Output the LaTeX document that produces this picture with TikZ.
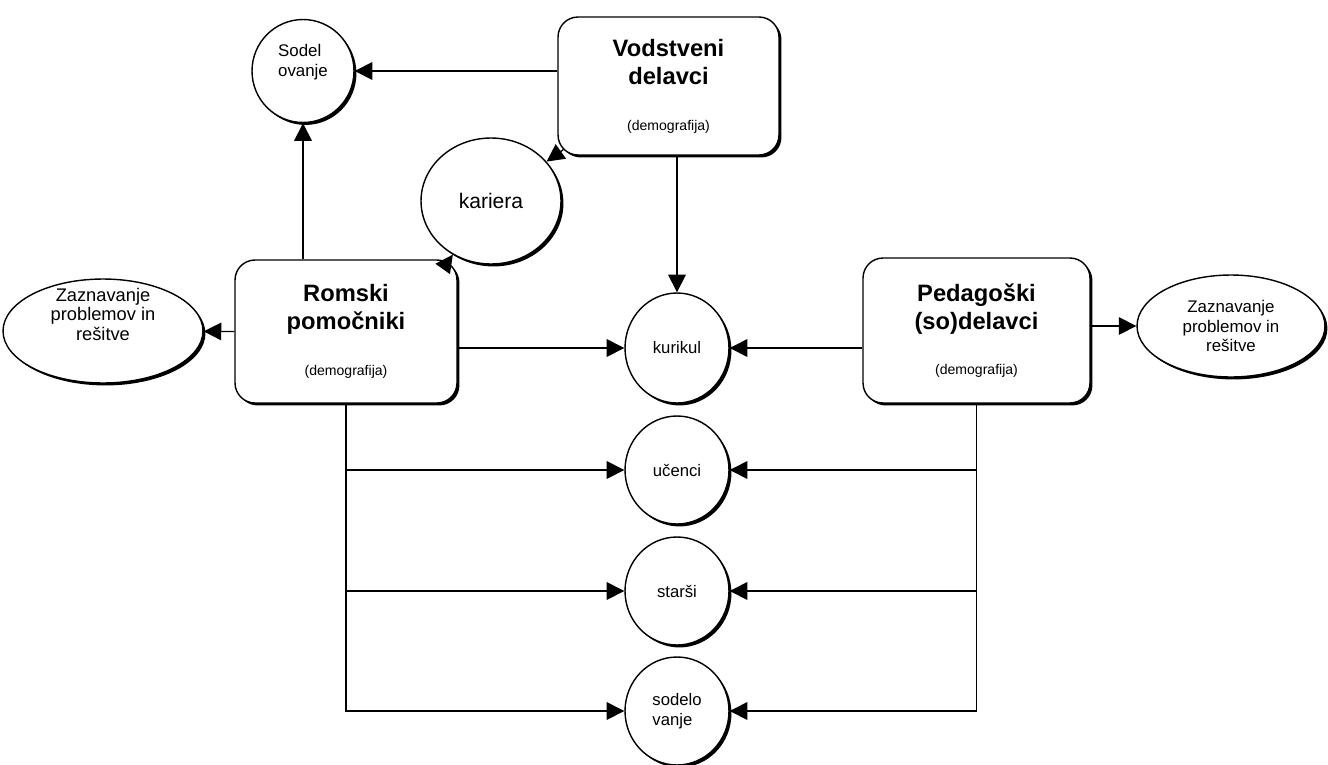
\documentclass[tikz,border=0pt]{standalone}
\usepackage{fontspec}
\setmainfont{Liberation Sans}
\usetikzlibrary{arrows.meta}
\usetikzlibrary{shapes}
\usetikzlibrary{shadows}

\newcommand{\demofont}{\normalfont\fontsize{8}{10}\selectfont}
% text block raised inside its bubble, the bubble itself stays put
\newcommand{\lifted}[3]{\raisebox{#1}[\height][\depth]{\begin{tabular}{@{}#2@{}}#3\end{tabular}}}

\begin{document}
\begin{tikzpicture}[x=0.02cm, y=-0.02cm,
  box/.style={draw, line width=0.8pt, fill=white, rounded corners=4mm, align=center,
    font=\fontsize{13.5}{16}\selectfont\bfseries,
    drop shadow={shadow xshift=1.4pt, shadow yshift=-1.4pt, fill=black, opacity=1}},
  bubble/.style={ellipse, draw, line width=0.8pt, fill=white, inner sep=0pt,
    drop shadow={shadow xshift=1.4pt, shadow yshift=-1.4pt, fill=black, opacity=1}},
  link/.style={line width=0.8pt, -{Triangle[length=10pt, width=10pt]}}]
\useasboundingbox (0,0) rectangle (1328,764);

% the three groups
\node[box, minimum width=4.42cm, minimum height=2.76cm] (vod) at (668.5,86) {Vodstveni\\delavci\\[10pt]\demofont (demografija)};
\node[box, minimum width=4.44cm, minimum height=2.86cm] (rom) at (346,331.5) {Romski\\pomočniki\\[10pt]\demofont (demografija)};
\node[box, minimum width=4.54cm, minimum height=2.9cm] (ped) at (976.5,330.5) {Pedagoški\\(so)delavci\\[10pt]\demofont (demografija)};

% topics
\node[bubble, font=\fontsize{9.6}{11.3}\selectfont, minimum width=2.04cm, minimum height=2.06cm] (sodel) at (303,71) {\lifted{5pt}{l}{Sodel\\ovanje}};
\node[bubble, font=\fontsize{12}{14}\selectfont, minimum width=2.8cm, minimum height=2.52cm] (kariera) at (491,201) {kariera};
\node[bubble, font=\fontsize{10.4}{11}\selectfont, minimum width=4cm, minimum height=2.08cm] (zazL) at (103,331) {\lifted{8pt}{c}{Zaznavanje\\problemov in\\rešitve}};
\node[bubble, align=center, font=\fontsize{9.6}{11.3}\selectfont, minimum width=3.76cm, minimum height=2.04cm] (zazR) at (1231,326) {Zaznavanje\\problemov in\\rešitve};
\node[bubble, font=\fontsize{9.5}{11.3}\selectfont, minimum width=2.08cm, minimum height=2.2cm] (kurikul) at (677,348) {kurikul};
\node[bubble, font=\fontsize{9.5}{11.3}\selectfont, minimum width=2.08cm, minimum height=2.16cm] (ucenci) at (677,470) {učenci};
\node[bubble, font=\fontsize{9.5}{11.3}\selectfont, minimum width=2.08cm, minimum height=2.16cm] (starsi) at (677,591) {starši};
\node[bubble, align=left, font=\fontsize{9.5}{11.3}\selectfont, minimum width=2.08cm, minimum height=2.16cm] (sodelo) at (677,711) {sodelo\\vanje};

% arrows
\draw[link] (vod.west |- sodel) -- (sodel);
\draw[link] ([shift={(6,-6)}]vod.south west) -- (kariera);
\draw[link] (vod.south -| kurikul) -- (kurikul);
\draw[link] (rom.north -| sodel) -- (sodel);
\draw[link] ([shift={(-11,4)}]rom.north east) -- (kariera);
\draw[link] (rom.west) -- (zazL);
\draw[link] (rom.east |- kurikul) -- (kurikul);
\draw[link] (ped.west |- kurikul) -- (kurikul);
\draw[link] (ped.east |- zazR) -- (zazR);
\draw[link] (rom.south) |- (ucenci);
\draw[link] (rom.south) |- (starsi);
\draw[link] (rom.south) |- (sodelo);
\draw[link] (ped.south) |- (ucenci);
\draw[link] (ped.south) |- (starsi);
\draw[link] (ped.south) |- (sodelo);
\end{tikzpicture}
\end{document}
